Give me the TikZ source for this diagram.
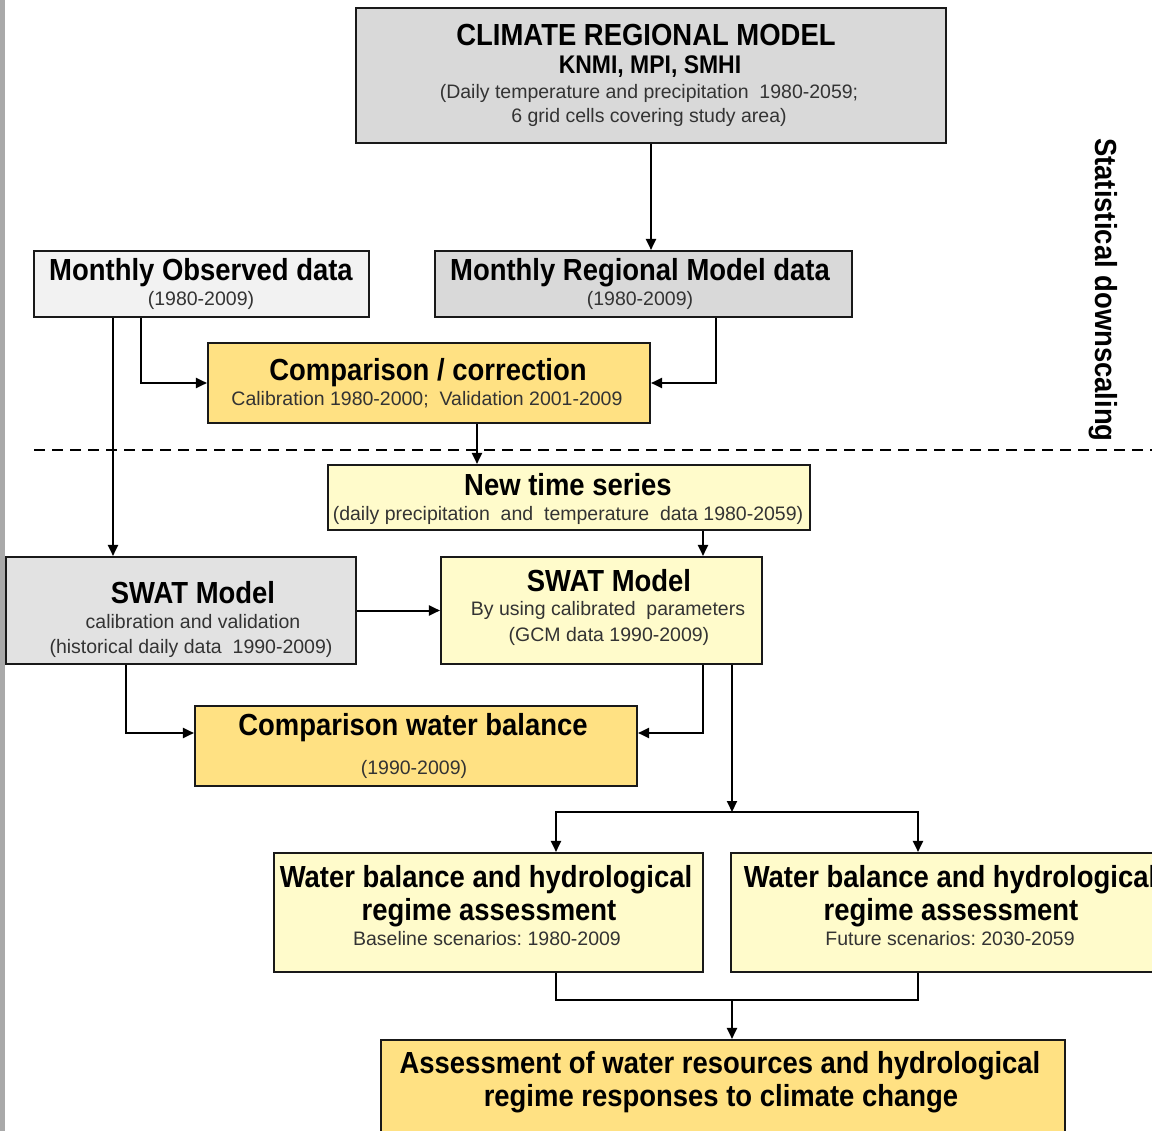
\documentclass[tikz,border=0pt]{standalone}
\usepackage{fontspec}
\setmainfont{Liberation Sans}
\newfontfamily\tfont{Liberation Sans}[FakeStretch=0.9]
\usetikzlibrary{arrows.meta}
\definecolor{cgray}{HTML}{D9D9D9}
\definecolor{clgray}{HTML}{F2F2F2}
\definecolor{cmgray}{HTML}{E2E2E2}
\definecolor{cgold}{HTML}{FFE183}
\definecolor{cyel}{HTML}{FFFBCB}
\definecolor{cbar}{HTML}{A9A9A9}
\definecolor{csub}{HTML}{333333}
\tikzset{
  box/.style={draw=black!90, line width=2.1pt, inner sep=0pt},
  grayf/.style={box, fill=cgray},
  lgrayf/.style={box, fill=clgray},
  mgrayf/.style={box, fill=cmgray},
  goldf/.style={box, fill=cgold},
  yelf/.style={box, fill=cyel},
  tb/.style={inner sep=0pt, text height=22pt, text depth=0pt, font=\tfont\bfseries\fontsize{30.5}{32}\selectfont},
  tm/.style={inner sep=0pt, text height=18.3pt, text depth=0pt, font=\tfont\bfseries\fontsize{25.5}{27}\selectfont},
  ts/.style={inner sep=0pt, text height=16pt, text depth=0pt, text=csub, font=\fontsize{19.5}{21}\selectfont},
  arr/.style={line width=2pt, -{Triangle[length=11pt,width=10pt]}},
  ln/.style={line width=2pt},
  dline/.style={line width=2pt, dash pattern=on 11pt off 7pt}
}
\begin{document}
\begin{tikzpicture}[x=1pt,y=-1pt]
\useasboundingbox (0,0) rectangle (1152,1131);
\fill[cbar] (0,0) rectangle (5,1131);

% boxes
\node[grayf, minimum width=590pt, minimum height=135pt] (crm) at (651,75.5) {};
\node[lgrayf, minimum width=335pt, minimum height=66pt] (obs) at (201.5,284) {};
\node[grayf, minimum width=417pt, minimum height=66pt] (reg) at (643.5,284) {};
\node[goldf, minimum width=442pt, minimum height=80pt] (cc) at (429,383) {};
\node[yelf, minimum width=482pt, minimum height=65pt] (nts) at (569,497.5) {};
\node[mgrayf, minimum width=350pt, minimum height=107pt] (swl) at (181,610.5) {};
\node[yelf, minimum width=321pt, minimum height=107pt] (swr) at (601.5,610.5) {};
\node[goldf, minimum width=442pt, minimum height=80pt] (cwb) at (416,746) {};
\node[yelf, minimum width=429pt, minimum height=119pt] (wbb) at (488.5,912.5) {};
\node[yelf, minimum width=440pt, minimum height=119pt] (wbf) at (951,912.5) {};
\node[goldf, minimum width=684pt, minimum height=120pt] (ass) at (723,1100) {};

% texts
\node[tb] (crm1) at (646,35) {CLIMATE REGIONAL MODEL};
\node[tm] (crm2) at (650,64) {KNMI, MPI, SMHI};
\node[ts] (crm3) at (649,91) {(Daily temperature and precipitation\ \ 1980-2059;};
\node[ts] (crm4) at (649,115) {6 grid cells covering study area)};
\node[tb] (obs1) at (201,270) {Monthly Observed data};
\node[ts] (obs2) at (201,298) {(1980-2009)};
\node[tb] (reg1) at (640,270) {Monthly Regional Model data};
\node[ts] (reg2) at (640,298) {(1980-2009)};
\node[tb] (cc1) at (428,370) {Comparison / correction};
\node[ts] (cc2) at (427,398) {Calibration\ 1980-2000;\ \ Validation\ 2001-2009};
\node[tb] (nts1) at (568,485) {New time series};
\node[ts] (nts2) at (568,513) {(daily precipitation\ \ and\ \ temperature\ \ data 1980-2059)};
\node[tb] (swl1) at (193,592) {SWAT Model};
\node[ts] (swl2) at (193,620) {calibration and validation};
\node[ts] (swl3) at (191,645) {(historical daily data\ \ 1990-2009)};
\node[tb] (swr1) at (609,580) {SWAT Model};
\node[ts] (swr2) at (608,607) {By using calibrated\ \ parameters};
\node[ts] (swr3) at (609,633) {(GCM data 1990-2009)};
\node[tb] (cwb1) at (413,724) {Comparison water balance};
\node[ts] (cwb2) at (414,766) {(1990-2009)};
\node[tb] (wbb1) at (486,876) {Water balance and hydrological};
\node[tb] (wbb2) at (489,909) {regime assessment};
\node[ts] (wbb3) at (487,937) {Baseline scenarios:\ 1980-2009};
\node[tb] (wbf1) at (950,876) {Water balance and hydrological};
\node[tb] (wbf2) at (951,909) {regime assessment};
\node[ts] (wbf3) at (950,937) {Future scenarios:\ 2030-2059};
\node[tb] (ass1) at (720,1062) {Assessment of water resources and hydrological};
\node[tb] (ass2) at (721,1095) {regime responses to climate change};
\node[tb, rotate=-90] (sd) at (1106,290) {Statistical downscaling};

% dashed line
\coordinate (d1) at (34,450);
\coordinate (d2) at (1152,450);
\draw[dline] (d1) -- (d2);

% connectors
\draw[arr] (crm.south) -- (crm.south |- reg.north);
\draw[arr] ([xshift=-88.5pt]obs.south) -- ([xshift=-68pt]swl.north);
\draw[arr] ([xshift=-60.5pt]obs.south) |- (cc.west);
\draw[arr] ([xshift=72.5pt]reg.south) |- (cc.east);
\draw[arr] ([xshift=48pt]cc.south) -- ([xshift=-92pt]nts.north);
\draw[arr] ([xshift=134pt]nts.south) -- ([xshift=101.5pt]swr.north);
\draw[arr] (swl.east) -- (swr.west);
\draw[arr] ([xshift=-55pt]swl.south) |- ([yshift=13pt]cwb.west);
\draw[arr] ([xshift=101.5pt]swr.south) |- ([yshift=13pt]cwb.east);
\coordinate (split) at (732,812);
\draw[arr] ([xshift=130.5pt]swr.south) -- (split);
\draw[arr] (split) -| ([xshift=67.5pt]wbb.north);
\draw[arr] (split) -| ([xshift=-33pt]wbf.north);
\coordinate (join) at (732,1000);
\draw[ln] ([xshift=67.5pt]wbb.south) |- (join) -| ([xshift=-33pt]wbf.south);
\draw[arr] (join) -- (join |- ass.north);
\end{tikzpicture}
\end{document}
